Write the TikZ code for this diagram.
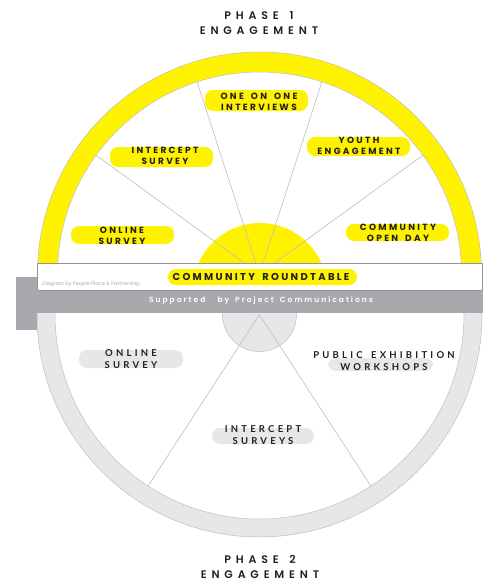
\documentclass[tikz,border=0pt]{standalone}
\usepackage{fontspec}
\setmainfont{Poppins}
\newfontfamily\titlefont{Poppins}[UprightFont=* SemiBold, LetterSpace=44]
\newfontfamily\labfont{Poppins}[UprightFont=* Bold, LetterSpace=26]
\newfontfamily\rtfont{Poppins}[UprightFont=* Bold, LetterSpace=23]
\newfontfamily\supfont{Poppins}[UprightFont=* SemiBold, LetterSpace=27]
\newfontfamily\blabfont{Lato}[LetterSpace=34]
\newfontfamily\credfont{Poppins}
\newcommand\ws{\ \hspace{0.3em}}
\definecolor{yel}{HTML}{FFF200}
\definecolor{ringgray}{HTML}{E6E7E8}
\definecolor{bandgray}{HTML}{A7A9AC}
\definecolor{edge}{HTML}{BCBEC0}
\definecolor{bandedge}{HTML}{939598}
\definecolor{txt}{HTML}{231F20}
\tikzset{
  spoke/.style={draw=edge, line width=0.6},
  hl/.style={fill=yel, rounded corners=8},
  ghl/.style={fill=ringgray, rounded corners=8},
  titlelab/.style={font=\titlefont\fontsize{11}{15}\selectfont, text=txt, align=center, inner sep=0},
  lab/.style={font=\labfont\fontsize{9}{11}\selectfont, text=txt, align=center, inner sep=0},
  blab/.style={font=\blabfont\bfseries\fontsize{9.5}{11.5}\selectfont, text=txt, align=center, inner sep=0},
}
\begin{document}
\begin{tikzpicture}[x=1pt,y=-1pt]
\useasboundingbox (0,0) rectangle (483,582);
\coordinate (c1) at (259.5,274);
\coordinate (c2) at (259.5,314.5);
% Phase 1 wheel
\begin{scope}
  \clip (0,0) rectangle (483,291);
  \filldraw[fill=yel, draw=edge, line width=0.5] (c1) circle[radius=222];
  \filldraw[fill=white, draw=edge, line width=0.5] (c1) circle[radius=202];
  \fill[yel] (260,290) circle[radius=67];
  \foreach \a in {-36,-72,-108,-144} \draw[spoke] (c1) -- ++(\a:202);
\end{scope}
% Phase 2 wheel
\begin{scope}
  \clip (0,290) rectangle (483,582);
  \filldraw[fill=ringgray, draw=edge, line width=0.5] (c2) circle[radius=222.5];
  \filldraw[fill=white, draw=edge, line width=0.5] (c2) circle[radius=204.5];
  \filldraw[fill=ringgray, draw=edge, line width=0.5] (c2) circle[radius=37];
  \foreach \a in {57,123} \draw[spoke] (c2) -- ++(\a:204.5);
\end{scope}
% bands
\fill[bandgray] (16,277) rectangle (483,313);
\fill[bandgray] (16,277) rectangle (37,330);
\filldraw[fill=white, draw=bandedge, line width=0.8] (37,263) rectangle (482,290);
% highlights
\fill[hl] (205,90) rectangle (308,111);
\fill[hl] (110,147) rectangle (213,167);
\fill[hl] (71,226) rectangle (174,244);
\fill[hl] (307,137) rectangle (410,156);
\fill[hl] (346,224) rectangle (449,241);
\fill[hl] (168,269) rectangle (357,285);
\fill[ghl] (79,350) rectangle (183,368);
\fill[ghl] (328,358) rectangle (433,371);
\fill[ghl] (212,428) rectangle (314,444);
% titles
\node[titlelab] (p1) at (259,23) {PHASE\ws 1\\ENGAGEMENT};
\node[titlelab] (p2) at (260,567) {PHASE\ws 2\\ENGAGEMENT};
% phase 1 labels
\node[lab] (oo) at (259,102) {ONE\ws ON\ws ONE\\INTERVIEWS};
\node[lab] (is) at (165,156) {INTERCEPT\\SURVEY};
\node[lab] (os) at (122,236) {ONLINE\\SURVEY};
\node[lab] (ye) at (359,146) {YOUTH\\ENGAGEMENT};
\node[lab] (cd) at (398,233) {COMMUNITY\\OPEN\ws DAY};
\node[font=\rtfont\fontsize{10}{12}\selectfont, text=txt, inner sep=0] (rt) at (261,277) {COMMUNITY\ws ROUNDTABLE};
\node[font=\credfont\fontsize{5}{6}\selectfont, text=bandgray, anchor=west, inner sep=0] (cr) at (42,284) {Diagram by People Place \& Partnership};
\node[font=\supfont\fontsize{7.5}{9}\selectfont, text=white, inner sep=0] (sp) at (261,301) {Supported\ws\ws by\ws Project\ws Communications};
% phase 2 labels
\node[blab] (bo) at (131,359) {ONLINE\\SURVEY};
\node[blab] (pe) at (384,361) {PUBLIC\ws EXHIBITION\\WORKSHOPS};
\node[blab] (bi) at (263,435) {INTERCEPT\\SURVEYS};
\end{tikzpicture}
\end{document}
